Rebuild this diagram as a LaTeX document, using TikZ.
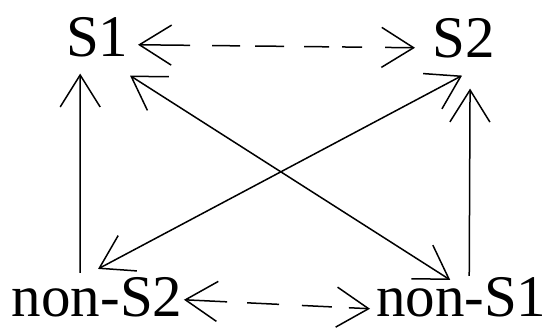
\documentclass[tikz,border=0pt]{standalone}
\usepackage{fontspec}
\setmainfont{Liberation Serif}
\usetikzlibrary{arrows.meta}
\begin{document}
\begin{tikzpicture}[x=1pt,y=-1pt,
  >={Straight Barb[length=32pt,width=40pt]},
  lbl/.style={anchor=base west,inner sep=0pt,outer sep=0pt,font=\fontsize{59}{59}\selectfont},
  conn/.style={line width=1.5pt,black}]
\useasboundingbox (0,0) rectangle (547,329);
\node[lbl] (S1) at (66,57) {S1};
\node[lbl] (S2) at (432.5,58) {S2};
\node[lbl] (NS2) at (12,316) {non-S2};
\node[lbl] (NS1) at (376,316) {non-S1};
% dashed horizontal links
\draw[conn,<->,
  dash pattern=on 50pt off 22pt on 28pt off 15pt on 29pt off 20pt on 25pt off 13pt on 20pt off 23pt on 60pt]
  ([xshift=9.7pt,yshift=-7pt]S1.east) -- ([xshift=-17.5pt,yshift=-9pt]S2.west);
\draw[conn,<->,
  dash pattern=on 41pt off 20pt on 32pt off 23pt on 30pt off 17pt on 50pt]
  ([xshift=1.5pt,yshift=-3pt]NS2.east) -- ([xshift=-6pt,yshift=-12pt]NS1.west);
% vertical arrows
\draw[conn,->]
  ([xshift=-17pt,yshift=4pt]NS2.north) -- ([xshift=-17pt,yshift=-16pt]S1.south);
\draw[conn,->]
  ([xshift=8pt,yshift=1pt]NS1.north) -- ([xshift=6.4pt,yshift=-30pt]S2.south);
% diagonals
\draw[conn,<->]
  ([xshift=1.7pt,yshift=-18pt]S1.south east) -- ([xshift=-11pt,yshift=-3pt]NS1.north);
\draw[conn,<->]
  ([xshift=-1.6pt,yshift=-17pt]S2.south) -- ([xshift=0.8pt,yshift=8pt]NS2.north);
\end{tikzpicture}
\end{document}
